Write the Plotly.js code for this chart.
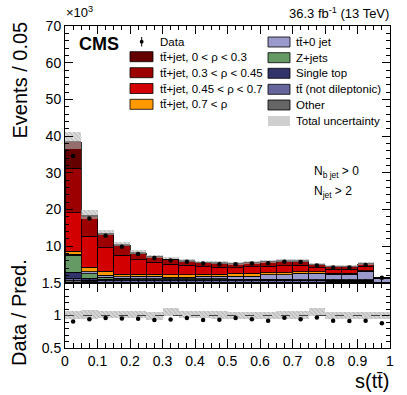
<!DOCTYPE html>
<html>
<head>
<meta charset="utf-8">
<script src="https://cdn.plot.ly/plotly-3.0.1.min.js"></script>
<style>
  html, body { margin: 0; padding: 0; background: #fff; }
  #plot { width: 407px; height: 395px; }
</style>
</head>
<body>
<div id="plot"></div>
<script>
// bin edges in s(tt)
var sEdges = [0, 0.05, 0.1, 0.15, 0.2, 0.25, 0.3, 0.35, 0.4, 0.45, 0.5,
              0.55, 0.6, 0.65, 0.7, 0.75, 0.8, 0.85, 0.9, 0.95, 1.0];

// stacked predictions, in thousands of events (bottom to top)
var other     = [0.6, 0.35, 0.25, 0.25, 0.25, 0.25, 0.25, 0.25, 0.25, 0.25, 0.25, 0.25, 0.25, 0.25, 0.25, 0.25, 0.2, 0.2, 0.2, 0.05];
var notDilep  = [0.7, 0.4, 0.35, 0.35, 0.35, 0.35, 0.35, 0.35, 0.35, 0.35, 0.35, 0.35, 0.3, 0.3, 0.3, 0.3, 0.3, 0.3, 0.3, 0.08];
var singleTop = [1.6, 0.6, 0.4, 0.35, 0.3, 0.3, 0.3, 0.3, 0.3, 0.3, 0.25, 0.25, 0.25, 0.25, 0.2, 0.2, 0.2, 0.2, 0.2, 0.05];
var zJets     = [4.7, 1.2, 0.5, 0.35, 0.3, 0.3, 0.25, 0.25, 0.2, 0.2, 0.2, 0.2, 0.2, 0.2, 0.15, 0.15, 0.15, 0.15, 0.15, 0.02];
var ttZero    = [0.3, 0.5, 0.65, 0.4, 0.65, 0.65, 0.45, 0.45, 0.75, 0.75, 0.85, 0.85, 1.3, 1.3, 1.8, 1.8, 1.6, 1.6, 2.35, 1.1];
var ttRhoHigh = [0.7, 1.3, 1.0, 0.7, 0.55, 0.6, 0.6, 0.6, 0.55, 0.55, 0.7, 0.7, 0.5, 0.5, 0.3, 0.3, 0.25, 0.25, 0.2, 0.05];
var ttRhoMid  = [10.6, 8.45, 6.45, 5.2, 3.9, 3.15, 2.9, 2.7, 2.05, 1.9, 1.6, 1.8, 1.8, 1.9, 1.8, 1.1, 1.1, 1.1, 1.1, 0.15];
var ttRhoLow  = [12.0, 5.2, 3.6, 2.6, 1.85, 1.6, 1.3, 1.0, 1.15, 1.1, 1.05, 1.1, 1.2, 1.2, 1.15, 0.85, 0.75, 0.75, 0.75, 0.08];
var ttRhoZero = [7.3, 0.4, 0.3, 0.2, 0.15, 0.1, 0.1, 0.1, 0.1, 0.1, 0.1, 0.1, 0.1, 0.1, 0.1, 0.05, 0.05, 0.05, 0.05, 0.02];

// data
var dataEvents = [34.6, 17.6, 12.9, 9.9, 7.9, 6.8, 6.1, 5.8, 5.3, 5.1, 5.1, 5.3, 5.4, 5.8, 5.7, 4.8, 4.2, 4.2, 4.9, 1.45];
var dataRatio  = [0.906, 0.944, 0.96, 0.955, 0.95, 0.93, 0.94, 0.96, 0.93, 0.933, 0.96, 0.944, 0.92, 0.964, 0.944, 0.97, 0.92, 0.917, 0.92, 0.88];

// relative total uncertainty (up / down)
var uncUp   = [0.07, 0.08, 0.07, 0.07, 0.07, 0.05, 0.11, 0.07, 0.07, 0.07, 0.06, 0.06, 0.06, 0.07, 0.07, 0.11, 0.06, 0.06, 0.06, 0.06];
var uncDown = [0.05, 0.05, 0.04, 0.04, 0.04, 0.07, 0.01, 0.04, 0.04, 0.05, 0.06, 0.06, 0.06, 0.05, 0.05, 0.01, 0.06, 0.06, 0.06, 0.06];

var xTicks = [0, 0.1, 0.2, 0.3, 0.4, 0.5, 0.6, 0.7, 0.8, 0.9, 1];
var xTickText = ['0', '0.1', '0.2', '0.3', '0.4', '0.5', '0.6', '0.7', '0.8', '0.9', '1'];

var FONT = 'Liberation Sans, Arial, Helvetica, sans-serif';

var centers = [];
var widths = [];
for (var i = 0; i < sEdges.length - 1; i++) {
    centers.push((sEdges[i] + sEdges[i + 1]) / 2);
    widths.push(sEdges[i + 1] - sEdges[i]);
}

var stack = [
    {name: 'Other', y: other, color: '#666666'},
    {name: 'tt\u0304 (not dileptonic)', y: notDilep, color: '#66669c'},
    {name: 'Single top', y: singleTop, color: '#33336b'},
    {name: 'Z+jets', y: zJets, color: '#659a65'},
    {name: 'tt\u0304+0 jet', y: ttZero, color: '#9999cc'},
    {name: 'tt\u0304+jet, 0.7 < \u03c1', y: ttRhoHigh, color: '#ff9900'},
    {name: 'tt\u0304+jet, 0.45 < \u03c1 < 0.7', y: ttRhoMid, color: '#d20000'},
    {name: 'tt\u0304+jet, 0.3 < \u03c1 < 0.45', y: ttRhoLow, color: '#9c0000'},
    {name: 'tt\u0304+jet, 0 < \u03c1 < 0.3', y: ttRhoZero, color: '#640000'}
];

var total = centers.map(function(c, k) {
    return stack.reduce(function(s, comp) { return s + comp.y[k]; }, 0);
});

var traces = stack.map(function(comp) {
    return {
        type: 'bar', x: centers, y: comp.y, width: widths, name: comp.name,
        marker: {color: comp.color, line: {color: '#000', width: 0.8}},
        xaxis: 'x', yaxis: 'y', hoverinfo: 'skip'
    };
});

var bandPattern = {shape: '\\', fillmode: 'overlay', fgcolor: '#7a7a7a', fgopacity: 0.45, size: 3, solidity: 0.3};

// total uncertainty band on the stack
traces.push({
    type: 'bar', x: centers, width: widths,
    base: total.map(function(t, k) { return t * (1 - uncDown[k]); }),
    y: total.map(function(t, k) { return t * (uncUp[k] + uncDown[k]); }),
    marker: {color: 'rgba(195,195,195,0.55)', line: {width: 0}, pattern: bandPattern},
    xaxis: 'x', yaxis: 'y', hoverinfo: 'skip'
});

traces.push({
    type: 'scatter', mode: 'markers', x: centers, y: dataEvents, name: 'Data',
    marker: {color: '#000', size: 4.5}, xaxis: 'x', yaxis: 'y'
});

// ratio panel
traces.push({
    type: 'bar', x: centers, width: widths,
    base: uncDown.map(function(d) { return 1 - d; }),
    y: uncDown.map(function(d, k) { return d + uncUp[k]; }),
    marker: {color: 'rgba(200,200,200,0.7)', line: {width: 0}, pattern: bandPattern},
    xaxis: 'x2', yaxis: 'y2', hoverinfo: 'skip'
});

traces.push({
    type: 'scatter', mode: 'markers', x: centers, y: dataRatio,
    marker: {color: '#000', size: 4.5}, xaxis: 'x2', yaxis: 'y2'
});

// pixel helpers for the decorations (plot area is x 65..390, y 26..348)
function px(x) { return (x - 65) / 325; }
function py(y) { return (348 - y) / 322; }

var split = py(283);

var shapes = [{
    type: 'line', xref: 'x2', yref: 'y2', x0: 0, x1: 1, y0: 1, y1: 1,
    line: {color: '#444', width: 1, dash: 'dash'}
}];

var annotations = [];
function addText(text, x, y, size, xanchor, extra) {
    var a = {
        text: text, xref: 'paper', yref: 'paper', x: px(x), y: py(y),
        xanchor: xanchor || 'left', yanchor: 'middle', showarrow: false,
        font: {family: FONT, size: size, color: '#000'}
    };
    for (var k in extra) a[k] = extra[k];
    annotations.push(a);
}

// legend, left column
var leftRows = [
    {label: 'tt\u0304+jet, 0 < \u03c1 < 0.3', color: '#640000', y: 56.7},
    {label: 'tt\u0304+jet, 0.3 < \u03c1 < 0.45', color: '#9c0000', y: 72.7},
    {label: 'tt\u0304+jet, 0.45 < \u03c1 < 0.7', color: '#d20000', y: 88.5},
    {label: 'tt\u0304+jet, 0.7 < \u03c1', color: '#ff9900', y: 104.3}
];
var rightRows = [
    {label: 'tt\u0304+0 jet', color: '#9999cc', y: 42},
    {label: 'Z+jets', color: '#659a65', y: 57.7},
    {label: 'Single top', color: '#33336b', y: 73.3},
    {label: 'tt\u0304 (not dileptonic)', color: '#66669c', y: 89.3},
    {label: 'Other', color: '#666666', y: 105},
    {label: 'Total uncertainty', color: '#cfcfcf', y: 121, noLine: true}
];

function addRow(row, x0, x1, tx) {
    shapes.push({
        type: 'rect', xref: 'paper', yref: 'paper',
        x0: px(x0), x1: px(x1), y0: py(row.y + 5), y1: py(row.y - 5),
        fillcolor: row.color, line: {color: '#000', width: row.noLine ? 0 : 0.8}
    });
    addText(row.label, tx, row.y, 11.5, 'left');
}
leftRows.forEach(function(r) { addRow(r, 130, 153, 158); });
rightRows.forEach(function(r) { addRow(r, 268, 290, 294); });

// data marker in legend
shapes.push({type: 'line', xref: 'paper', yref: 'paper', x0: px(141.7), x1: px(141.7),
             y0: py(37), y1: py(46.5), line: {color: '#000', width: 1}});
shapes.push({type: 'circle', xref: 'paper', yref: 'paper', x0: px(139.8), x1: px(143.6),
             y0: py(43.6), y1: py(39.8), fillcolor: '#000', line: {color: '#000', width: 0}});
addText('Data', 158, 42, 11.5, 'left');

addText('<b>CMS</b>', 77, 44, 18, 'left');
addText('\u00d710<sup>3</sup>', 64, 12, 13, 'left');
addText('36.3 fb<sup>-1</sup> (13 TeV)', 391, 13, 13, 'right');
addText('N<sub>b jet</sub> > 0', 312, 172, 12, 'left');
addText('N<sub>jet</sub> > 2', 312, 192, 12, 'left');
addText('s(tt\u0304)', 391, 381, 20, 'right');
addText('Events / 0.05', 19, 20, 20, 'center', {textangle: -90, yanchor: 'top'});
addText('Data / Pred.', 19, 313, 20, 'center', {textangle: -90});

var axisCommon = {
    showline: true, linecolor: '#000', linewidth: 1, mirror: 'allticks',
    ticks: 'inside', tickcolor: '#000', showgrid: false, zeroline: false,
    tickfont: {family: FONT, size: 14, color: '#000'}
};

function axis(extra) {
    var a = {};
    for (var k in axisCommon) a[k] = axisCommon[k];
    for (var j in extra) a[j] = extra[j];
    return a;
}

var layout = {
    width: 407, height: 395,
    margin: {l: 65, r: 17, t: 26, b: 47},
    paper_bgcolor: '#fff', plot_bgcolor: '#fff',
    barmode: 'stack', bargap: 0,
    showlegend: false,
    font: {family: FONT, color: '#000'},
    xaxis: axis({domain: [0, 1], range: [0, 1], anchor: 'y', showticklabels: false,
                 tickvals: xTicks, ticklen: 8,
                 minor: {dtick: 0.025, tick0: 0, ticks: 'inside', ticklen: 4, tickcolor: '#000'}}),
    yaxis: axis({domain: [split, 1], range: [0, 70], anchor: 'x',
                 tickvals: [10, 20, 30, 40, 50, 60, 70], ticklen: 8,
                 minor: {dtick: 2, tick0: 0, ticks: 'inside', ticklen: 4, tickcolor: '#000'}}),
    xaxis2: axis({domain: [0, 1], range: [0, 1], anchor: 'y2',
                  tickvals: xTicks, ticktext: xTickText, ticklen: 9,
                  minor: {dtick: 0.025, tick0: 0, ticks: 'inside', ticklen: 5, tickcolor: '#000'}}),
    yaxis2: axis({domain: [0, split], range: [0.5, 1.5], anchor: 'x2',
                  tickvals: [0.5, 1, 1.5], ticktext: ['0.5', '1', '1.5'], ticklen: 8,
                  minor: {dtick: 0.1, tick0: 0.5, ticks: 'inside', ticklen: 4, tickcolor: '#000'}}),
    shapes: shapes,
    annotations: annotations
};

Plotly.newPlot('plot', traces, layout, {displayModeBar: false, staticPlot: true});
</script>
</body>
</html>
